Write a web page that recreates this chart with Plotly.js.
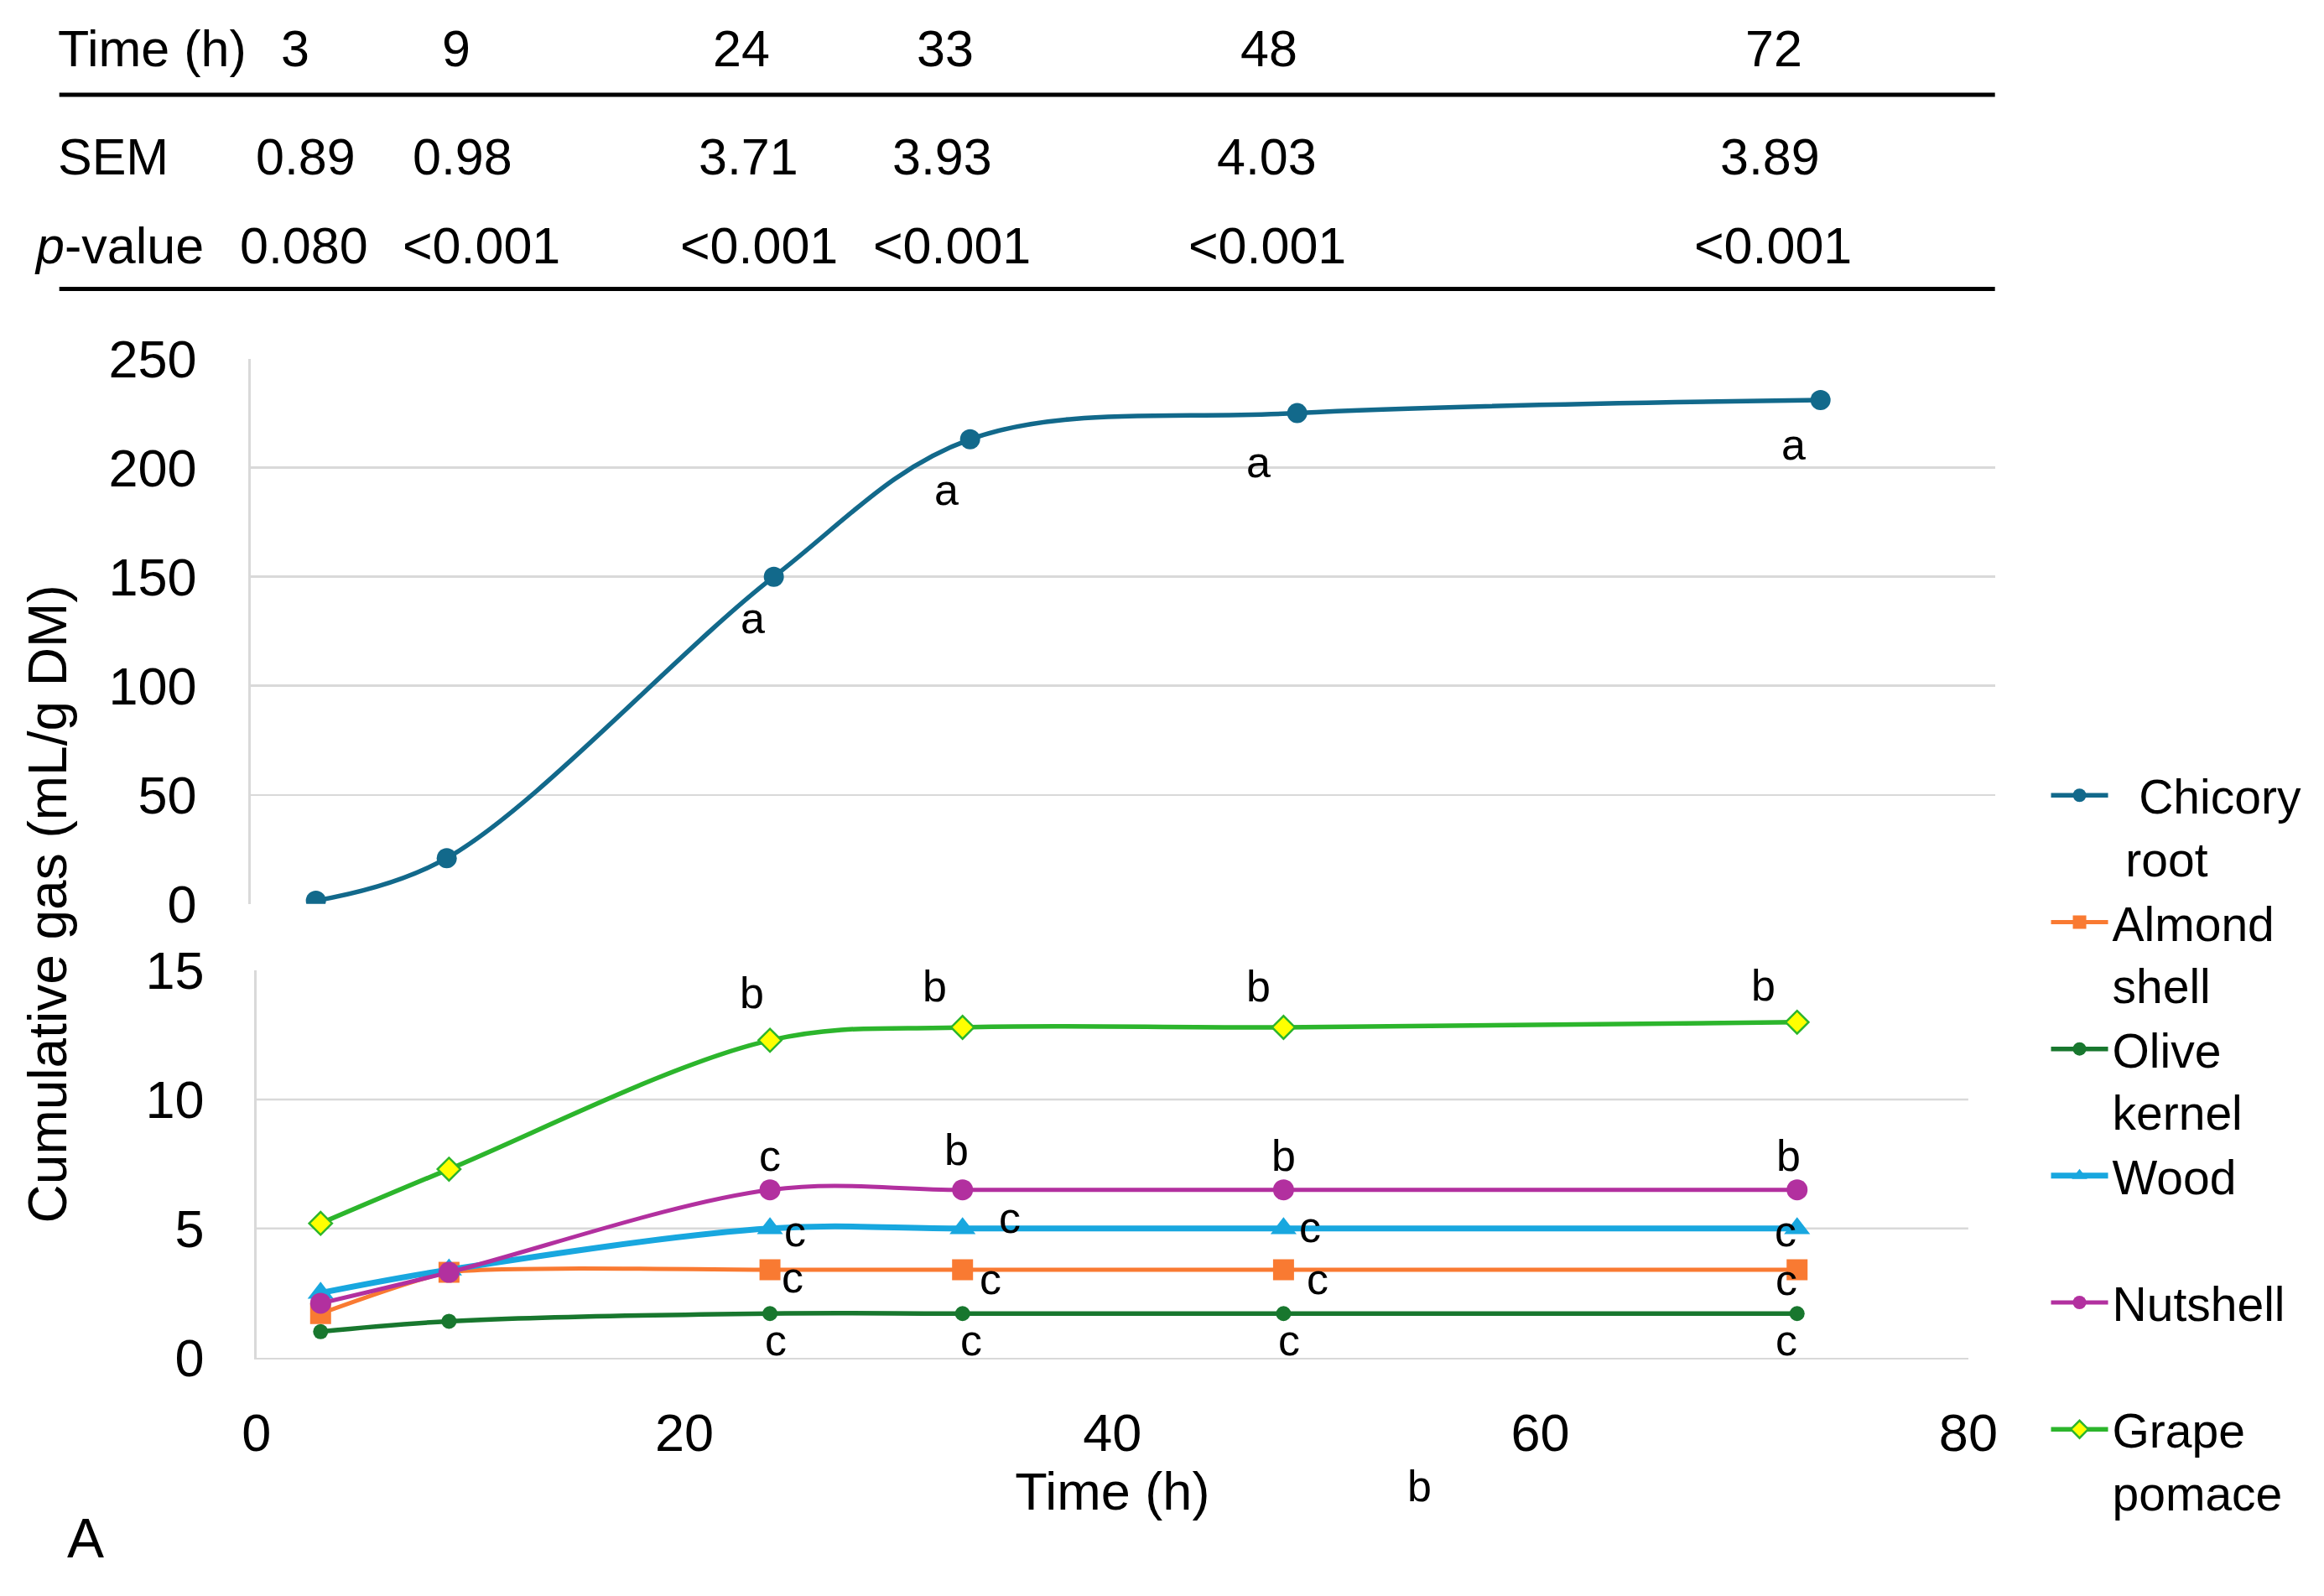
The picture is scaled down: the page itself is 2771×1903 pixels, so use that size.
<!DOCTYPE html>
<html>
<head>
<meta charset="utf-8">
<script src="https://cdn.plot.ly/plotly-3.0.1.min.js"></script>
<style>html,body{margin:0;padding:0;background:#fff;}#chart{width:2771px;height:1903px;}</style>
</head>
<body>
<div id="chart"></div>
<script>
// ---------- DATA ----------
const time = [3, 9, 24, 33, 48, 72];
const chicory = [1.5, 21, 150, 213, 225, 231];
const almond = [1.7, 3.3, 3.4, 3.4, 3.4, 3.4];
const olive = [1.0, 1.4, 1.7, 1.7, 1.7, 1.7];
const wood = [2.5, 3.4, 5.0, 5.0, 5.0, 5.0];
const nutshell = [2.1, 3.3, 6.5, 6.5, 6.5, 6.5];
const grape = [5.2, 7.3, 12.3, 12.8, 12.8, 13.0];

const chicoryLetters = ["", "", "a", "a", "a", "a"];
const grapeLetters = ["", "", "b", "b", "b", "b"];
const nutshellLetters = ["", "", "c", "b", "b", "b"];
const woodLetters = ["", "", "c", "c", "c", "c"];
const almondLetters = ["", "", "c", "c", "c", "c"];
const oliveLetters = ["", "", "c", "c", "c", "c"];

const tableTimes = ["3", "9", "24", "33", "48", "72"];
const sem = ["0.89", "0.98", "3.71", "3.93", "4.03", "3.89"];
const pvalues = ["0.080", "<0.001", "<0.001", "<0.001", "<0.001", "<0.001"];

const seriesNames = ["&nbsp;&nbsp;Chicory<br>&nbsp;root", "Almond<br>shell", "Olive<br>kernel", "Wood<br>&nbsp;", "Nutshell<br>&nbsp;", "Grape<br>pomace"];

// ---------- LAYOUT HELPERS (positions/styles) ----------
const W = 2771, H = 1903;
const DW = 1568, DH = 1077;           // reference coordinate frame
const S = W / DW;
const px = d => d / DW;
const py = d => 1 - d / DH;
const FONT = "Liberation Sans, Arial, sans-serif";

const timeColX = [199, 308, 500, 638, 856, 1197];
const semColX = [206, 312, 505, 636, 855, 1194];
const pColX = [205, 325, 512, 642, 855, 1196];

const colors = {
  chicory: "#12698B",
  almond: "#F97A32",
  olive: "#18772E",
  wood: "#18A7DF",
  nutshell: "#B2309F",
  grape: "#2CB52C"
};

// letter offsets in reference pixels [dx, dy(down)]
const chicoryOff = [null, null, [-14, 28], [-16, 34], [-26, 33], [-18, 30]];
const grapeOff = [null, null, [-12, -32], [-19, -28], [-17, -28], [-23, -25]];
const nutOff = [null, null, [0, -23], [-4, -27], [0, -23], [-6, -23]];
const woodOff = [null, null, [17, 2], [32, -7], [18, -1], [-8, 2]];
const almondOff = [null, null, [15, 5], [19, 6], [23, 6], [-7, 7]];
const oliveOff = [null, null, [4, 18], [6, 18], [4, 18], [-7, 18]];

// ---------- TRACES ----------
const spline = {shape: "spline", smoothing: 1};
const traces = [
  {x: time, y: chicory, name: seriesNames[0], xaxis: "x", yaxis: "y", mode: "lines+markers",
   line: Object.assign({color: colors.chicory, width: 5.5}, spline),
   marker: {symbol: "circle", size: 24, color: colors.chicory}},
  {x: time, y: almond, name: seriesNames[1], xaxis: "x2", yaxis: "y2", mode: "lines+markers",
   line: {color: colors.almond, width: 5, shape: "spline", smoothing: 0.5},
   marker: {symbol: "square", size: 25, color: colors.almond}},
  {x: time, y: olive, name: seriesNames[2], xaxis: "x2", yaxis: "y2", mode: "lines+markers",
   line: Object.assign({color: colors.olive, width: 5.5}, spline),
   marker: {symbol: "circle", size: 18, color: colors.olive}},
  {x: time, y: wood, name: seriesNames[3], xaxis: "x2", yaxis: "y2", mode: "lines+markers",
   line: Object.assign({color: colors.wood, width: 7}, spline),
   marker: {symbol: "triangle-up", size: 27, color: colors.wood}},
  {x: time, y: nutshell, name: seriesNames[4], xaxis: "x2", yaxis: "y2", mode: "lines+markers",
   line: Object.assign({color: colors.nutshell, width: 5}, spline),
   marker: {symbol: "circle", size: 25, color: colors.nutshell}},
  {x: time, y: grape, name: seriesNames[5], xaxis: "x2", yaxis: "y2", mode: "lines+markers",
   line: Object.assign({color: colors.grape, width: 5.5}, spline),
   marker: {symbol: "diamond", size: 21, color: "#FFFF00", line: {color: colors.grape, width: 2.5}}}
];

// ---------- ANNOTATIONS ----------
const annotations = [];
function addLetters(vals, letters, offs, xa, ya) {
  letters.forEach((t, i) => {
    if (!t) return;
    annotations.push({
      x: time[i], y: vals[i], xref: xa, yref: ya, text: t, showarrow: false,
      xshift: offs[i][0] * S, yshift: -offs[i][1] * S,
      font: {family: FONT, size: 52, color: "#000"}, xanchor: "center", yanchor: "middle"
    });
  });
}
addLetters(chicory, chicoryLetters, chicoryOff, "x", "y");
addLetters(grape, grapeLetters, grapeOff, "x2", "y2");
addLetters(nutshell, nutshellLetters, nutOff, "x2", "y2");
addLetters(wood, woodLetters, woodOff, "x2", "y2");
addLetters(almond, almondLetters, almondOff, "x2", "y2");
addLetters(olive, oliveLetters, oliveOff, "x2", "y2");

const tf = {family: FONT, size: 61, color: "#000"};
function cell(text, xd, yd, anchor) {
  annotations.push({x: px(xd), y: py(yd), xref: "paper", yref: "paper", text: text, showarrow: false,
    xanchor: anchor || "center", yanchor: "middle", font: tf});
}
cell("Time (h)", 38, 33, "left");
tableTimes.forEach((t, i) => cell(t, timeColX[i], 33));
cell("SEM", 38, 106, "left");
sem.forEach((t, i) => cell(t, semColX[i], 106));
cell("<i>p</i>-value", 22, 166, "left");
pvalues.forEach((t, i) => cell(t, pColX[i], 166));

// y-axis title spanning both panels
annotations.push({x: px(32), y: py(610), xref: "paper", yref: "paper", text: "Cumulative gas (mL/g DM)",
  textangle: -90, showarrow: false, xanchor: "center", yanchor: "middle",
  font: {family: FONT, size: 64, color: "#000"}});
// stray label and panel letter
annotations.push({x: px(958), y: py(1003), xref: "paper", yref: "paper", text: "b", showarrow: false,
  xanchor: "center", yanchor: "middle", font: {family: FONT, size: 52, color: "#000"}});
annotations.push({x: px(58), y: py(1038), xref: "paper", yref: "paper", text: "A", showarrow: false,
  xanchor: "center", yanchor: "middle", font: {family: FONT, size: 66, color: "#000"}});

// ---------- SHAPES ----------
const shapes = [
  {type: "line", xref: "paper", yref: "paper", x0: px(40), x1: px(1346), y0: py(64), y1: py(64), line: {color: "#000", width: 5}},
  {type: "line", xref: "paper", yref: "paper", x0: px(40), x1: px(1346), y0: py(195), y1: py(195), line: {color: "#000", width: 5}}
];
[5, 10].forEach(v => shapes.push({type: "line", xref: "x2 domain", yref: "y2", x0: 0, x1: 1, y0: v, y1: v,
  line: {color: "#d9d9d9", width: 2.5}, layer: "below"}));

const grid = "#d9d9d9";
const layout = {
  width: W, height: H,
  margin: {l: 0, r: 0, t: 0, b: 0},
  paper_bgcolor: "#fff", plot_bgcolor: "#fff",
  font: {family: FONT, color: "#000"},
  showlegend: true,
  legend: {x: px(1381), y: py(512), xanchor: "left", yanchor: "top", valign: "top",
    font: {family: FONT, size: 57, color: "#000"}, itemwidth: 68, tracegroupgap: 0,
    bgcolor: "rgba(0,0,0,0)"},
  xaxis: {domain: [px(169), px(1346)], range: [0, 80], anchor: "y", showticklabels: false,
    showgrid: false, zeroline: false, showline: false, ticks: ""},
  yaxis: {domain: [py(610), py(242)], range: [0, 250], anchor: "x", dtick: 50, tick0: 0,
    showgrid: true, gridcolor: grid, gridwidth: 2.5, zeroline: false, showline: true, linecolor: grid, linewidth: 2.5,
    ticks: "", ticklabelstandoff: 49, tickfont: {family: FONT, size: 63, color: "#000"}},
  xaxis2: {domain: [px(173), px(1328)], range: [0, 80], anchor: "y2", tickvals: [0, 20, 40, 60, 80],
    showgrid: false, zeroline: false, showline: true, linecolor: grid, linewidth: 2.5, ticks: "",
    ticklabelstandoff: 33, tickfont: {family: FONT, size: 63, color: "#000"},
    title: {text: "Time (h)", font: {family: FONT, size: 63, color: "#000"}, standoff: 0}},
  yaxis2: {domain: [py(916), py(655)], range: [0, 15], anchor: "x2", tickvals: [0, 5, 10, 15],
    showgrid: false, zeroline: false, showline: true, linecolor: grid, linewidth: 2.5, ticks: "",
    ticklabelstandoff: 47, tickfont: {family: FONT, size: 63, color: "#000"}},
  annotations: annotations,
  shapes: shapes
};

Plotly.newPlot("chart", traces, layout, {displayModeBar: false, staticPlot: true});
</script>
</body>
</html>
